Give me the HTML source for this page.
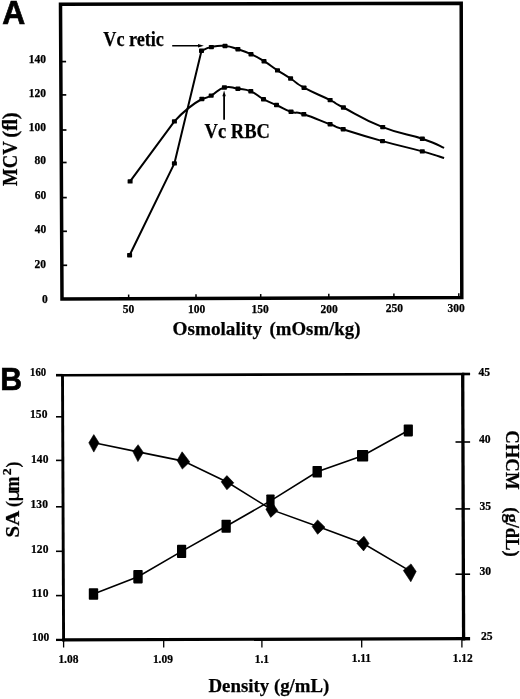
<!DOCTYPE html>
<html lang="en"><head><meta charset="utf-8"><title>Figure</title>
<style>html,body{margin:0;padding:0;background:#fff;}body{width:520px;height:699px;overflow:hidden;}svg{display:block;}text{font-family:"Liberation Serif", serif;font-weight:bold;fill:#000;stroke:#000;stroke-width:0.25px;}.pl{font-family:"Liberation Sans", sans-serif;font-weight:bold;stroke-width:0.7px;}</style></head><body>
<svg width="520" height="699" viewBox="0 0 520 699">
<rect x="0" y="0" width="520" height="699" fill="#fff"/>
<defs><filter id="soft" x="0" y="0" width="520" height="699" filterUnits="userSpaceOnUse"><feGaussianBlur stdDeviation="0.38"/></filter></defs>
<g filter="url(#soft)">
<g id="panelA">
<text class="pl" transform="translate(2.30,23.60) scale(0.985,1)" font-size="32.3" text-anchor="start">A</text>
<polygon points="60.5,4.2 461.2,3.2 461.8,297.5 62,299" fill="none" stroke="#000" stroke-width="3.5" stroke-linejoin="miter"/>
<line x1="60.79" y1="61.60" x2="66.09" y2="61.60" stroke="#000" stroke-width="1.7"/>
<text transform="translate(46.00,63.40)" font-size="11.5" text-anchor="end">140</text>
<line x1="60.96" y1="94.90" x2="66.26" y2="94.90" stroke="#000" stroke-width="1.7"/>
<text transform="translate(46.00,96.95)" font-size="11.5" text-anchor="end">120</text>
<line x1="61.14" y1="130.00" x2="66.44" y2="130.00" stroke="#000" stroke-width="1.7"/>
<text transform="translate(46.00,130.65)" font-size="11.5" text-anchor="end">100</text>
<line x1="61.30" y1="162.50" x2="66.60" y2="162.50" stroke="#000" stroke-width="1.7"/>
<text transform="translate(46.10,163.55)" font-size="11.5" text-anchor="end">80</text>
<line x1="61.48" y1="197.60" x2="66.78" y2="197.60" stroke="#000" stroke-width="1.7"/>
<text transform="translate(46.20,198.65)" font-size="11.5" text-anchor="end">60</text>
<line x1="61.65" y1="231.30" x2="66.95" y2="231.30" stroke="#000" stroke-width="1.7"/>
<text transform="translate(46.30,232.95)" font-size="11.5" text-anchor="end">40</text>
<line x1="61.83" y1="265.30" x2="67.13" y2="265.30" stroke="#000" stroke-width="1.7"/>
<text transform="translate(46.10,268.05)" font-size="11.5" text-anchor="end">20</text>
<text transform="translate(47.70,302.75)" font-size="11.5" text-anchor="end">0</text>
<line x1="128.65" y1="298.75" x2="128.65" y2="294.55" stroke="#000" stroke-width="1.5"/>
<text transform="translate(128.50,313.30)" font-size="11.5" text-anchor="middle">50</text>
<line x1="196.00" y1="298.50" x2="196.00" y2="294.30" stroke="#000" stroke-width="1.5"/>
<text transform="translate(196.70,313.10)" font-size="11.5" text-anchor="middle">100</text>
<line x1="260.70" y1="298.25" x2="260.70" y2="294.05" stroke="#000" stroke-width="1.5"/>
<text transform="translate(260.00,312.80)" font-size="11.5" text-anchor="middle">150</text>
<line x1="328.80" y1="298.00" x2="328.80" y2="293.80" stroke="#000" stroke-width="1.5"/>
<text transform="translate(329.20,312.60)" font-size="11.5" text-anchor="middle">200</text>
<line x1="393.90" y1="297.76" x2="393.90" y2="293.56" stroke="#000" stroke-width="1.5"/>
<text transform="translate(394.30,312.20)" font-size="11.5" text-anchor="middle">250</text>
<line x1="458.80" y1="297.51" x2="458.80" y2="293.31" stroke="#000" stroke-width="1.5"/>
<text transform="translate(456.10,311.70)" font-size="11.5" text-anchor="middle">300</text>
<text transform="translate(172.60,334.70)" font-size="19.8" text-anchor="start" textLength="89.4" lengthAdjust="spacingAndGlyphs">Osmolality</text>
<text transform="translate(269.60,334.70)" font-size="19.8" text-anchor="start" textLength="90.8" lengthAdjust="spacingAndGlyphs">(mOsm/kg)</text>
<g transform="translate(17,185.9) rotate(-90)">
<text x="0" y="0" font-size="20.2" textLength="44.6" lengthAdjust="spacingAndGlyphs">MCV</text>
<text x="48.1" y="0" font-size="20.2" textLength="25.6" lengthAdjust="spacingAndGlyphs">(ﬂ)</text>
</g>
<path d="M129.6,255.3 L174.4,163.4 L201.5,50.8 C204.1,49.8 205.1,48.4 211.4,47.1 C217.7,45.8 217.9,45.4 225.0,46.0 C232.1,46.6 231.0,47.0 237.9,49.2 C244.8,51.4 244.0,51.0 251.0,54.2 C258.0,57.4 256.9,56.9 264.0,61.2 C271.1,65.5 270.4,65.8 277.5,70.4 C284.6,75.0 283.5,73.9 290.6,78.5 C297.7,83.1 293.5,81.9 304.0,87.7 C314.5,93.5 319.6,94.8 330.1,100.1 C340.6,105.4 329.4,100.3 343.4,107.5 C357.4,114.7 361.7,118.8 382.7,127.1 C403.7,135.4 405.9,133.2 422.3,138.7 C438.7,144.2 438.3,145.4 444.1,147.9" fill="none" stroke="#000" stroke-width="2" stroke-linejoin="round"/>
<path d="M130.1,181.4 L174.4,121.4 Q188.0,106.5 201.9,99.0 C204.4,98.1 205.2,98.7 211.2,95.6 C217.2,92.5 217.3,89.3 224.4,87.5 C231.5,85.7 230.9,87.7 237.9,88.7 C244.9,89.7 244.0,88.5 250.8,91.3 C257.6,94.1 256.6,95.5 263.5,99.2 C270.4,102.9 269.2,101.7 276.5,105.0 C283.8,108.3 283.7,109.2 291.0,111.7 C298.3,114.2 293.4,110.8 303.8,114.2 C314.2,117.6 319.6,120.3 330.1,124.3 C340.6,128.3 329.2,124.8 343.2,129.3 C357.2,133.8 361.4,135.2 382.5,141.1 C403.6,147.0 405.9,146.9 422.3,151.4 C438.7,155.9 438.3,156.2 444.1,158.0" fill="none" stroke="#000" stroke-width="2" stroke-linejoin="round"/>
<rect x="127.1" y="253.1" width="5" height="4.4" rx="0.7" fill="#000"/>
<rect x="171.9" y="161.2" width="5" height="4.4" rx="0.7" fill="#000"/>
<rect x="199.0" y="48.6" width="5" height="4.4" rx="0.7" fill="#000"/>
<rect x="208.9" y="44.9" width="5" height="4.4" rx="0.7" fill="#000"/>
<rect x="222.5" y="43.8" width="5" height="4.4" rx="0.7" fill="#000"/>
<rect x="235.4" y="47.0" width="5" height="4.4" rx="0.7" fill="#000"/>
<rect x="248.5" y="52.0" width="5" height="4.4" rx="0.7" fill="#000"/>
<rect x="261.5" y="59.0" width="5" height="4.4" rx="0.7" fill="#000"/>
<rect x="275.0" y="68.2" width="5" height="4.4" rx="0.7" fill="#000"/>
<rect x="288.1" y="76.3" width="5" height="4.4" rx="0.7" fill="#000"/>
<rect x="301.5" y="85.5" width="5" height="4.4" rx="0.7" fill="#000"/>
<rect x="327.6" y="97.9" width="5" height="4.4" rx="0.7" fill="#000"/>
<rect x="340.9" y="105.3" width="5" height="4.4" rx="0.7" fill="#000"/>
<rect x="380.2" y="124.9" width="5" height="4.4" rx="0.7" fill="#000"/>
<rect x="419.8" y="136.5" width="5" height="4.4" rx="0.7" fill="#000"/>
<rect x="127.6" y="179.2" width="5" height="4.4" rx="0.7" fill="#000"/>
<rect x="171.9" y="119.2" width="5" height="4.4" rx="0.7" fill="#000"/>
<rect x="199.4" y="96.8" width="5" height="4.4" rx="0.7" fill="#000"/>
<rect x="208.7" y="93.4" width="5" height="4.4" rx="0.7" fill="#000"/>
<rect x="221.9" y="85.3" width="5" height="4.4" rx="0.7" fill="#000"/>
<rect x="235.4" y="86.5" width="5" height="4.4" rx="0.7" fill="#000"/>
<rect x="248.3" y="89.1" width="5" height="4.4" rx="0.7" fill="#000"/>
<rect x="261.0" y="97.0" width="5" height="4.4" rx="0.7" fill="#000"/>
<rect x="274.0" y="102.8" width="5" height="4.4" rx="0.7" fill="#000"/>
<rect x="288.5" y="109.5" width="5" height="4.4" rx="0.7" fill="#000"/>
<rect x="301.3" y="112.0" width="5" height="4.4" rx="0.7" fill="#000"/>
<rect x="327.6" y="122.1" width="5" height="4.4" rx="0.7" fill="#000"/>
<rect x="340.7" y="127.1" width="5" height="4.4" rx="0.7" fill="#000"/>
<rect x="380.0" y="138.9" width="5" height="4.4" rx="0.7" fill="#000"/>
<rect x="419.8" y="149.2" width="5" height="4.4" rx="0.7" fill="#000"/>
<text transform="translate(103.30,45.60)" font-size="20.2" text-anchor="start" textLength="60.6" lengthAdjust="spacingAndGlyphs">Vc retic</text>
<line x1="172.20" y1="45.75" x2="199.00" y2="45.75" stroke="#000" stroke-width="1.5"/>
<polygon points="203.8,45.75 198,44.1 198,47.4" fill="#000"/>
<text transform="translate(204.50,137.80)" font-size="20.2" text-anchor="start" textLength="65.4" lengthAdjust="spacingAndGlyphs">Vc RBC</text>
<line x1="224.10" y1="95.00" x2="224.10" y2="119.80" stroke="#000" stroke-width="1.8"/>
<polygon points="224.1,90.6 222.4,96.2 225.8,96.2" fill="#000"/>
</g>
<g id="panelB">
<text class="pl" transform="translate(0.30,389.70) scale(0.940,1)" font-size="32.2" text-anchor="start">B</text>
<line x1="61.10" y1="375.20" x2="464.30" y2="374.00" stroke="#000" stroke-width="2.6"/>
<line x1="62.50" y1="375.20" x2="63.60" y2="641.30" stroke="#000" stroke-width="2.9"/>
<line x1="462.70" y1="374.00" x2="463.60" y2="640.30" stroke="#000" stroke-width="3.3"/>
<line x1="62.20" y1="639.80" x2="465.20" y2="638.70" stroke="#000" stroke-width="3.2"/>
<line x1="56.00" y1="375.20" x2="62.50" y2="375.20" stroke="#000" stroke-width="2.6"/>
<text transform="translate(46.20,375.80) scale(0.865,1)" font-size="12.4" text-anchor="end">160</text>
<line x1="56.00" y1="416.80" x2="62.67" y2="416.80" stroke="#000" stroke-width="1.6"/>
<text transform="translate(47.40,418.35) scale(0.930,1)" font-size="12.4" text-anchor="end">150</text>
<line x1="56.00" y1="460.40" x2="62.85" y2="460.40" stroke="#000" stroke-width="1.6"/>
<text transform="translate(48.40,462.70) scale(0.930,1)" font-size="12.4" text-anchor="end">140</text>
<line x1="56.00" y1="506.80" x2="63.05" y2="506.80" stroke="#000" stroke-width="1.6"/>
<text transform="translate(47.90,508.35) scale(0.930,1)" font-size="12.4" text-anchor="end">130</text>
<line x1="56.00" y1="551.30" x2="63.23" y2="551.30" stroke="#000" stroke-width="1.6"/>
<text transform="translate(48.40,552.70) scale(0.930,1)" font-size="12.4" text-anchor="end">120</text>
<line x1="56.00" y1="595.60" x2="63.42" y2="595.60" stroke="#000" stroke-width="1.6"/>
<text transform="translate(48.40,596.60) scale(0.930,1)" font-size="12.4" text-anchor="end">110</text>
<line x1="56.00" y1="639.90" x2="63.60" y2="639.90" stroke="#000" stroke-width="2.3"/>
<text transform="translate(49.20,640.70) scale(0.930,1)" font-size="12.4" text-anchor="end">100</text>
<line x1="462.00" y1="374.00" x2="470.10" y2="374.00" stroke="#000" stroke-width="2.6"/>
<text transform="translate(478.40,375.90) scale(0.940,1)" font-size="12.4" text-anchor="start">45</text>
<line x1="455.50" y1="442.00" x2="470.10" y2="442.00" stroke="#000" stroke-width="1.6"/>
<text transform="translate(479.00,442.90) scale(0.940,1)" font-size="12.4" text-anchor="start">40</text>
<line x1="455.50" y1="508.90" x2="470.10" y2="508.90" stroke="#000" stroke-width="1.6"/>
<text transform="translate(479.50,509.90) scale(0.940,1)" font-size="12.4" text-anchor="start">35</text>
<line x1="455.50" y1="574.20" x2="470.10" y2="574.20" stroke="#000" stroke-width="1.6"/>
<text transform="translate(479.50,574.90) scale(0.940,1)" font-size="12.4" text-anchor="start">30</text>
<line x1="462.00" y1="638.70" x2="470.10" y2="638.70" stroke="#000" stroke-width="3.4"/>
<text transform="translate(481.00,639.70) scale(0.940,1)" font-size="12.4" text-anchor="start">25</text>
<line x1="63.60" y1="640.00" x2="63.60" y2="647.50" stroke="#000" stroke-width="1.3"/>
<text transform="translate(68.40,663.40) scale(0.940,1)" font-size="12.2" text-anchor="middle">1.08</text>
<line x1="163.70" y1="640.00" x2="163.70" y2="647.50" stroke="#000" stroke-width="1.3"/>
<text transform="translate(162.90,663.10) scale(0.940,1)" font-size="12.2" text-anchor="middle">1.09</text>
<line x1="261.90" y1="640.00" x2="261.90" y2="647.50" stroke="#000" stroke-width="1.3"/>
<text transform="translate(261.85,662.50) scale(0.940,1)" font-size="12.2" text-anchor="middle">1.1</text>
<line x1="361.70" y1="640.00" x2="361.70" y2="647.50" stroke="#000" stroke-width="1.3"/>
<text transform="translate(361.35,662.10) scale(0.940,1)" font-size="12.2" text-anchor="middle">1.11</text>
<line x1="461.90" y1="640.00" x2="461.90" y2="647.50" stroke="#000" stroke-width="1.3"/>
<text transform="translate(462.80,662.10) scale(0.940,1)" font-size="12.2" text-anchor="middle">1.12</text>
<text transform="translate(208.40,691.90)" font-size="19.8" text-anchor="start" textLength="121" lengthAdjust="spacingAndGlyphs">Density (g/mL)</text>
<g transform="translate(18.9,537.4) rotate(-90)">
<text x="0" y="0" font-size="19.5" textLength="26.7" lengthAdjust="spacingAndGlyphs">SA</text>
<text transform="translate(30.30,0.00) scale(0.900,1)" font-size="19.5" style="font-weight:bold;">(</text>
<text transform="translate(35.80,0.00) scale(1.180,1)" font-size="18.5" style="font-weight:normal;font-family:'Liberation Sans', sans-serif;">μ</text>
<text transform="translate(46.20,0.00) scale(0.880,1)" font-size="20" style="font-weight:bold;">m</text>
<text transform="translate(62.20,-7.75) scale(1.200,1)" font-size="11.5" style="font-weight:bold;">2</text>
<text transform="translate(70.00,0.00) scale(0.900,1)" font-size="19.5" style="font-weight:bold;">)</text>
</g>
<g transform="translate(506.0,430.2) rotate(90)">
<text x="0" y="0" font-size="19.5" textLength="59.4" lengthAdjust="spacingAndGlyphs">CHCM</text>
<text x="77.0" y="0" font-size="19.5" textLength="49.6" lengthAdjust="spacingAndGlyphs">(g/dL)</text>
</g>
<polyline points="93.9,442.8 138.1,451.9 183.4,461.1 227.5,482.3 271.9,509.9 318.6,526.8 362.9,543.3 409.8,570.9" fill="none" stroke="#000" stroke-width="1.6"/>
<polyline points="93.5,594.0 138.0,576.8 181.6,551.4 226.2,526.2 270.5,500.9 317.2,471.8 362.6,455.8 408.3,430.5" fill="none" stroke="#000" stroke-width="1.6"/>
<polygon points="93.8,434.6 99.0,442.8 93.8,452.1 88.8,442.8" fill="#000" stroke="#000" stroke-width="0.6" stroke-linejoin="round"/>
<polygon points="138.1,444.7 143.4,452.4 137.9,461.6 132.8,451.5" fill="#000" stroke="#000" stroke-width="0.6" stroke-linejoin="round"/>
<polygon points="182.1,451.8 189.8,461.9 182.3,469.1 177.1,460.4" fill="#000" stroke="#000" stroke-width="0.6" stroke-linejoin="round"/>
<polygon points="226.9,475.6 233.8,482.8 226.9,489.8 221.2,481.8" fill="#000" stroke="#000" stroke-width="0.6" stroke-linejoin="round"/>
<polygon points="271.6,501.6 277.9,510.7 270.7,517.4 265.9,509.2" fill="#000" stroke="#000" stroke-width="0.6" stroke-linejoin="round"/>
<polygon points="317.6,519.9 325.0,527.2 317.6,534.3 312.1,526.4" fill="#000" stroke="#000" stroke-width="0.6" stroke-linejoin="round"/>
<polygon points="364.0,536.2 369.0,543.4 363.6,550.9 356.8,543.2" fill="#000" stroke="#000" stroke-width="0.6" stroke-linejoin="round"/>
<polygon points="411.0,563.9 416.2,571.4 410.8,581.8 403.3,570.4" fill="#000" stroke="#000" stroke-width="0.6" stroke-linejoin="round"/>
<rect x="88.8" y="588.3" width="9.4" height="11.4" rx="0.8" fill="#000"/>
<rect x="133.3" y="570.1" width="9.4" height="13.3" rx="0.8" fill="#000"/>
<rect x="177.0" y="544.7" width="9.2" height="13.4" rx="0.8" fill="#000"/>
<rect x="221.5" y="519.7" width="9.3" height="13.0" rx="0.8" fill="#000"/>
<rect x="266.3" y="494.5" width="8.3" height="12.7" rx="0.8" fill="#000"/>
<rect x="312.5" y="466.0" width="9.4" height="11.5" rx="0.8" fill="#000"/>
<rect x="357.0" y="450.0" width="11.2" height="11.5" rx="0.8" fill="#000"/>
<rect x="403.7" y="424.6" width="9.2" height="11.8" rx="0.8" fill="#000"/>
</g>
</g>
</svg></body></html>
